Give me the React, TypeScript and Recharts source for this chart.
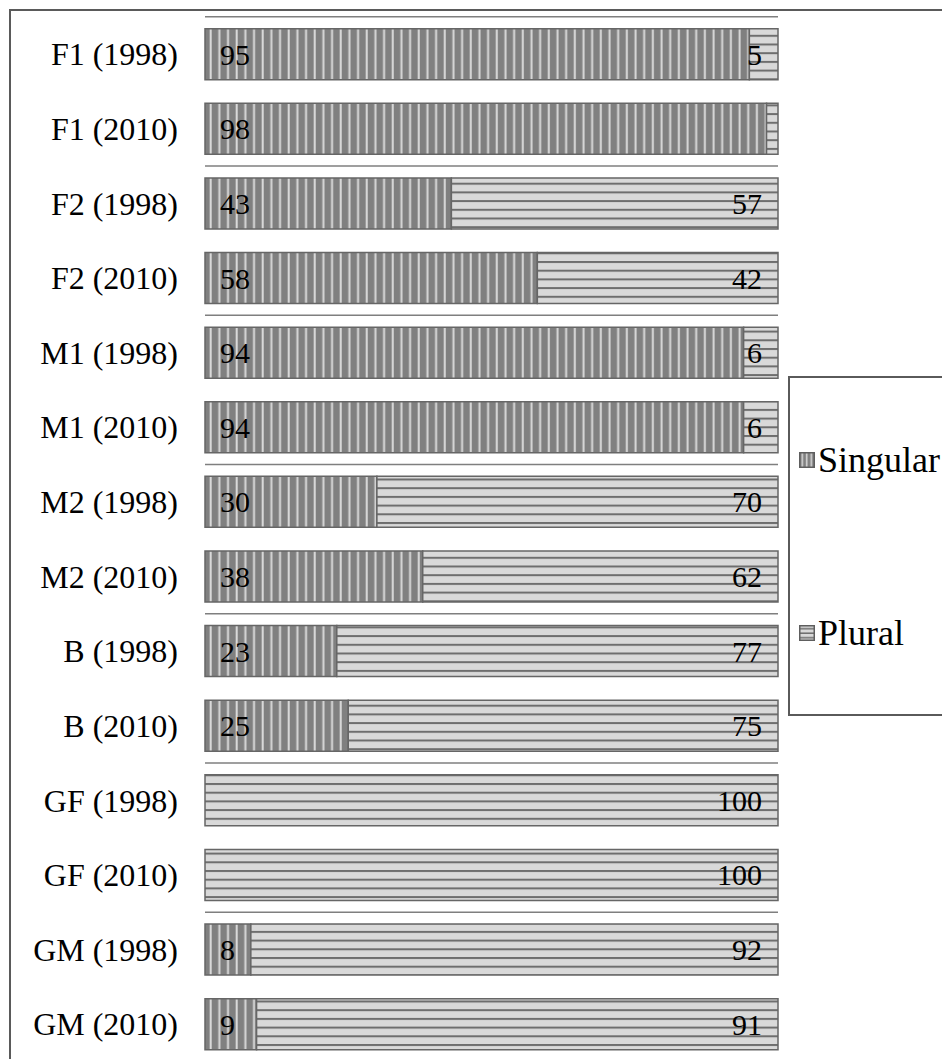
import React from 'react';
import { BarChart, Bar, XAxis, YAxis, ReferenceLine, LabelList, Legend } from 'recharts';

const categories = [
  'F1 (1998)', 'F1 (2010)', 'F2 (1998)', 'F2 (2010)', 'M1 (1998)', 'M1 (2010)', 'M2 (1998)',
  'M2 (2010)', 'B (1998)', 'B (2010)', 'GF (1998)', 'GF (2010)', 'GM (1998)', 'GM (2010)',
];
const singular = [95, 98, 43, 58, 94, 94, 30, 38, 23, 25, 0, 0, 8, 9];
const plural = [5, 2, 57, 42, 6, 6, 70, 62, 77, 75, 100, 100, 92, 91];
const seriesNames = ['Singular', 'Plural'];
// group separators drawn at the top edge of these categories (and bottom edge of the last)
const groupStarts = ['F1 (1998)', 'F2 (1998)', 'M1 (1998)', 'M2 (1998)', 'B (1998)', 'GF (1998)', 'GM (1998)'];
const lastCategory = 'GM (2010)';

const data = categories.map((name, i) => ({
  name,
  [seriesNames[0]]: singular[i],
  [seriesNames[1]]: plural[i],
}));

const FONT = '"Liberation Serif", "Times New Roman", serif';

const SingularLabel = (props: any) => {
  const { x, y, height, value } = props;
  if (value == null || value <= 2) return null;
  return (
    <text x={x + 15} y={y + height / 2} textAnchor="start" dominantBaseline="central"
      fontFamily={FONT} fontSize={30} fill="#000">{value}</text>
  );
};

const PluralLabel = (props: any) => {
  const { x, y, width, height, value } = props;
  if (value == null || value <= 2) return null;
  return (
    <text x={x + width - 16} y={y + height / 2} textAnchor="end" dominantBaseline="central"
      fontFamily={FONT} fontSize={30} fill="#000">{value}</text>
  );
};

const LegendIcon = ({ kind }: { kind: number }) => (
  <svg width={16} height={16} style={{ position: 'absolute', left: 0, top: -8 }}>
    <rect x={0.75} y={0.75} width={14.5} height={14.5} fill={kind === 0 ? 'url(#legSing)' : 'url(#legPlur)'}
      stroke="#5e5e5e" strokeWidth={1.5} />
  </svg>
);

const renderLegend = (props: any) => {
  const payload = [...(props.payload || [])].sort(
    (a: any, b: any) => seriesNames.indexOf(a.value) - seriesNames.indexOf(b.value)
  );
  const tops = [84, 257];
  return (
    <div style={{ position: 'relative', width: 300, height: 340, border: '2px solid #5a5a5a', boxSizing: 'border-box', background: '#fff', fontFamily: FONT }}>
      <svg width={0} height={0} style={{ position: 'absolute' }}>
        <defs>
          <pattern id="legSing" patternUnits="userSpaceOnUse" width={4.5} height={10}>
            <rect x={0} y={0} width={4.5} height={10} fill="#808080" />
            <rect x={2.5} y={0} width={1.5} height={10} fill="#d9d9d9" />
          </pattern>
          <pattern id="legPlur" patternUnits="userSpaceOnUse" width={10} height={4.5}>
            <rect x={0} y={0} width={10} height={4.5} fill="#d9d9d9" />
            <rect x={0} y={3} width={10} height={1.5} fill="#6e6e6e" />
          </pattern>
        </defs>
      </svg>
      {payload.map((entry: any) => {
        const k = seriesNames.indexOf(entry.value);
        return (
          <div key={entry.value} style={{ position: 'absolute', left: 9, top: tops[k] - 2, height: 0 }}>
            <LegendIcon kind={k} />
            <span style={{ position: 'absolute', left: 19, top: -21, fontSize: 36, lineHeight: '42px', whiteSpace: 'nowrap', color: '#000' }}>
              {entry.value}
            </span>
          </div>
        );
      })}
    </div>
  );
};

export default function App() {
  return (
    <div style={{ position: 'absolute', left: 0, top: 0, width: 942, height: 1059, overflow: 'hidden', background: '#fff' }}>
      <div style={{ position: 'absolute', left: 9, top: 9, width: 1200, height: 1200, border: '2px solid #5a5a5a' }} />
      <div style={{ position: 'absolute', left: 0, top: 0 }}>
        <BarChart
          width={1000}
          height={1100}
          data={data}
          layout="vertical"
          margin={{ top: 16.7, right: 222, bottom: 38.6, left: 0 }}
          barCategoryGap="16%"
        >
          <defs>
            <pattern id="patSing" patternUnits="userSpaceOnUse" width={8.67} height={20}>
              <rect x={0} y={0} width={8.67} height={20} fill="#808080" />
              <rect x={1.6} y={0} width={2} height={20} fill="#d9d9d9" />
            </pattern>
            <pattern id="patPlur" patternUnits="userSpaceOnUse" width={20} height={8.7}>
              <rect x={0} y={0} width={20} height={8.7} fill="#d9d9d9" />
              <rect x={0} y={0} width={20} height={2} fill="#6e6e6e" />
            </pattern>
          </defs>
          <XAxis type="number" domain={[0, 100]} hide />
          <YAxis
            type="category"
            dataKey="name"
            width={205}
            axisLine={false}
            tickLine={false}
            tickSize={0}
            tickMargin={27}
            interval={0}
            tick={{ fontFamily: FONT, fontSize: 32, fill: '#000' }}
          />
          {groupStarts.map((c) => (
            <ReferenceLine key={c} y={c} position="start" stroke="#7f7f7f" strokeWidth={1.5} />
          ))}
          <ReferenceLine y={lastCategory} position="end" stroke="#7f7f7f" strokeWidth={1.5} />
          <Bar dataKey={seriesNames[0]} stackId="a" fill="url(#patSing)" stroke="#666666" strokeWidth={1.5} isAnimationActive={false}>
            <LabelList dataKey={seriesNames[0]} content={SingularLabel} />
          </Bar>
          <Bar dataKey={seriesNames[1]} stackId="a" fill="url(#patPlur)" stroke="#666666" strokeWidth={1.5} isAnimationActive={false}>
            <LabelList dataKey={seriesNames[1]} content={PluralLabel} />
          </Bar>
          <Legend
            layout="vertical"
            align="center"
            verticalAlign="middle"
            content={renderLegend}
            wrapperStyle={{ position: 'absolute', left: 788, top: 376, width: 300, height: 340 }}
          />
        </BarChart>
      </div>
    </div>
  );
}
